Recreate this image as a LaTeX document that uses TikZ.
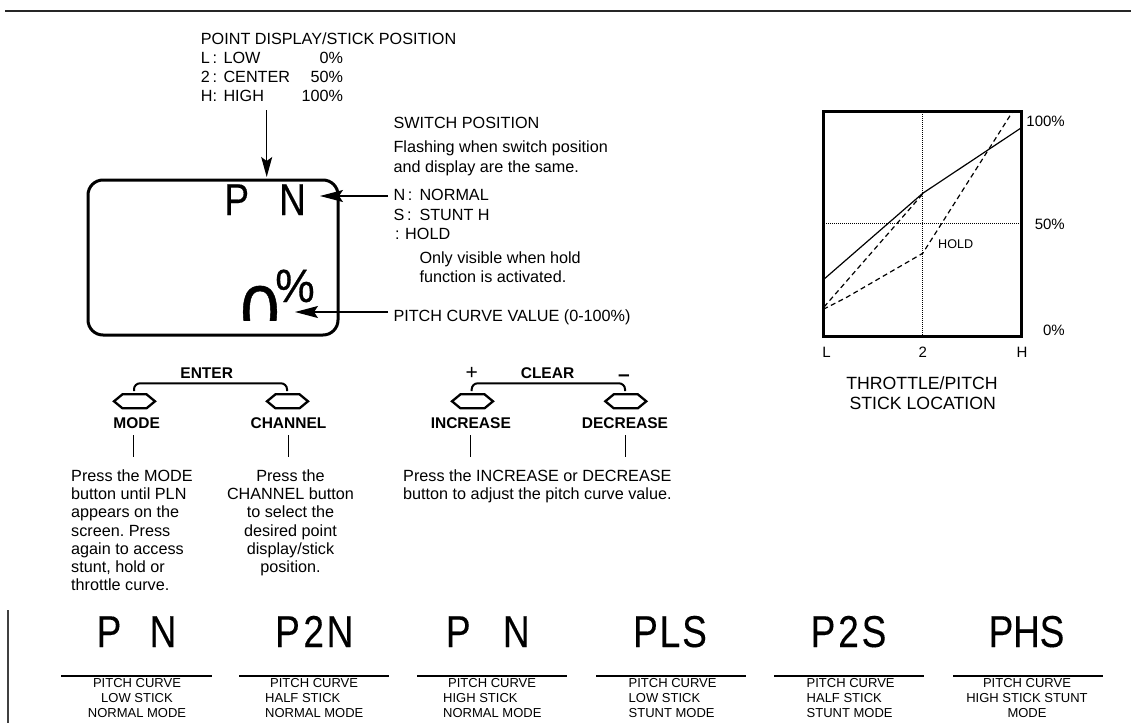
\documentclass[tikz,border=0pt]{standalone}
\usepackage{graphicx}
\usepackage{fontspec}
\setmainfont{Liberation Sans}
\newfontfamily\lcdfont{Liberation Sans}[FakeBold=0.25]
\newfontfamily\zerofont{Liberation Sans}[FakeBold=0.6]
\usetikzlibrary{arrows.meta,calc}
\frenchspacing
\newcommand\myfs[1]{\fontsize{#1}{#1}\selectfont}
\newcommand\lcdrow[4]{\makebox[#1pt]{\scalebox{0.83}[1]{#2}}\makebox[#1pt]{\scalebox{0.83}[1]{#3}}\makebox[#1pt]{\scalebox{0.83}[1]{#4}}}
\newcommand\hexbtn[2]{%
  \draw[btn] (#1-20.5,401.3) -- (#1-12,394.3) -- (#1+12,394.3) -- (#1+20.5,401.3) -- (#1+12,408.3) -- (#1-12,408.3) -- cycle;
  \coordinate (#2) at (#1,401.3);}
\begin{document}
\begin{tikzpicture}[x=1pt,y=-1pt,
  txt/.style={inner sep=0pt,anchor=base west,font=\myfs{16.2}},
  lcd/.style={inner sep=0pt,anchor=base,font=\lcdfont\myfs{44.7}},
  lbl/.style={inner sep=0pt,anchor=base,font=\bfseries\myfs{15.5}},
  para/.style={inner sep=0pt,font=\fontsize{16.2}{18.3}\selectfont},
  bt/.style={inner sep=0pt,font=\fontsize{13}{15}\selectfont},
  glab/.style={inner sep=0pt,anchor=base,font=\myfs{15}},
  btn/.style={line width=2.3pt,line join=miter},
  brk/.style={line width=2pt,rounded corners=6pt},
  ptr/.style={line width=1.2pt,-{Stealth[length=20pt,width=11pt,inset=4pt]}},
  rulel/.style={line width=1.3pt},
  conn/.style={line width=0.9pt},
  grid/.style={line width=0.8pt,dash pattern=on 1pt off 1pt},
  crv/.style={line width=1.2pt},
  dcrv/.style={line width=1.2pt,dash pattern=on 5pt off 3.5pt}
]
\useasboundingbox (0,0) rectangle (1131,723);

% frame rules
\coordinate (tl) at (5,10.7); \coordinate (tr) at (1131,10.7);
\draw[line width=2pt,black!85] (tl) -- (tr);
\coordinate (vl1) at (8.3,610); \coordinate (vl2) at (8.3,723);
\draw[line width=1.8pt,black!75] (vl1) -- (vl2);

% point display block
\node[txt] (pdt) at (200.7,44) {POINT DISPLAY/STICK POSITION};
\node[txt] (pl) at (200.7,63) {L\,:};
\node[txt] (plw) at (223.3,63) {LOW};
\node[txt,anchor=base east] (plv) at (343.3,63) {0\%};
\node[txt] (pc) at (200.7,82) {2\,:};
\node[txt] (pcw) at (223.3,82) {CENTER};
\node[txt,anchor=base east] (pcv) at (343.3,82) {50\%};
\node[txt] (ph) at (200.7,101.5) {H:};
\node[txt] (phw) at (223.3,101.5) {HIGH};
\node[txt,anchor=base east] (phv) at (343.3,101.5) {100\%};

% display
\node[draw,line width=3pt,rounded corners=15pt,minimum width=250,minimum height=155,inner sep=0pt] (disp) at (213,257.5) {};
\node[lcd] (dchars) at (264.6,215) {\lcdrow{27.9}{P}{}{N}};
\begin{scope}
  \clip (200,240) rectangle (335,320);
  \node[inner sep=0pt,anchor=base,font=\zerofont\myfs{74}] (zero) at (260,337.5) {\scalebox{0.95}[1]{0}};
\end{scope}
\node[inner sep=0pt,anchor=base,font=\zerofont\myfs{46.7}] (pct) at (295,302) {\scalebox{0.95}[1]{\%}};

\coordinate (a1s) at (266.7,110); \coordinate (a1e) at (266.7,177);
\draw[ptr] (a1s) -- (a1e);

% switch block
\node[txt] (swt) at (393.3,128.5) {SWITCH POSITION};
\node[txt] (sw1) at (393.3,152.5) {Flashing when switch position};
\node[txt] (sw2) at (393.3,172.5) {and display are the same.};
\node[txt] (swn) at (393.3,200.8) {N\,:};
\node[txt] (swnn) at (419.3,200.8) {NORMAL};
\node[txt] (sws) at (393.3,220.8) {S\,:};
\node[txt] (swss) at (419.3,220.8) {STUNT H};
\node[txt] (swh) at (395,239.8) {:};
\node[txt] (swhh) at (405,239.8) {HOLD};
\node[txt] (swo1) at (419.3,263.5) {Only visible when hold};
\node[txt] (swo2) at (419.3,282.5) {function is activated.};
\node[txt] (pcval) at (393.3,321) {PITCH CURVE VALUE (0-100\%)};

\coordinate (a2s) at (388,196); \coordinate (a2e) at (320,196);
\draw[line width=1.2pt,-{Stealth[length=23pt,width=12pt,inset=4pt]}] (a2s) -- (a2e);
\coordinate (a3s) at (388,312); \coordinate (a3e) at (295,312);
\draw[line width=1.2pt,-{Stealth[length=23pt,width=12pt,inset=4pt]}] (a3s) -- (a3e);

% graph
\node[draw,line width=3pt,minimum width=198,minimum height=225,inner sep=0pt] (gr) at (922,223.5) {};
\draw[grid] (922.7,112) -- (922.7,335);
\draw[grid] (824,223.3) -- (1020,223.3);
\draw[crv] (823,280) -- (922.7,193.3) -- (1021,128);
\draw[dcrv] (824,307) -- (922.7,194);
\draw[dcrv] (823.3,309.3) -- (846.7,297.3) -- (922.7,253.3) -- (1013,111);
\node[inner sep=0pt,anchor=base,font=\myfs{12.6}] (ghold) at (955.7,248.8) {HOLD};
\node[glab,anchor=base east] (g100) at (1065,126.4) {100\%};
\node[glab,anchor=base east] (g50) at (1065,229.4) {50\%};
\node[glab,anchor=base east] (g0) at (1065,335.4) {0\%};
\node[glab] (gL) at (826.5,357.1) {L};
\node[glab] (g2) at (922.7,357.1) {2};
\node[glab] (gH) at (1022,357.1) {H};
\node[inner sep=0pt,anchor=base,font=\myfs{17.7}] (gt1) at (922,389.3) {THROTTLE/PITCH};
\node[inner sep=0pt,anchor=base,font=\myfs{17.7}] (gt2) at (922.7,409.6) {STICK LOCATION};

% buttons
\hexbtn{134.5}{b1}
\hexbtn{287.5}{b2}
\hexbtn{472.5}{b3}
\hexbtn{625.8}{b4}
\draw[brk] (134,391) -- (134,383.3) -- (287,383.3) -- (287,391);
\draw[brk] (471.7,391) -- (471.7,383.3) -- (625,383.3) -- (625,391);
\node[lbl] (enter) at (206.7,378) {ENTER};
\node[lbl] (clear) at (547.5,378) {CLEAR};
\node[inner sep=0pt,anchor=base,font=\myfs{21}] (plus) at (471.7,379) {+};
\node[inner sep=0pt,anchor=base,font=\bfseries\myfs{21}] (minus) at (624,381.5) {\textendash};
\node[lbl] (mode) at (136.7,428.5) {MODE};
\node[lbl] (chan) at (288.5,428.5) {CHANNEL};
\node[lbl] (inc) at (470.8,428.5) {INCREASE};
\node[lbl] (dec) at (625,428.5) {DECREASE};

\node[para,anchor=north west,align=left] (modep) at (71,469.2) {Press the MODE\\button until PLN\\appears on the\\screen. Press\\again to access\\stunt, hold or\\throttle curve.};
\node[para,anchor=north,align=center] (chanp) at (290.5,469.2) {Press the\\CHANNEL button\\to select the\\desired point\\display/stick\\position.};
\node[para,anchor=north west,align=left] (incp) at (403,469.2) {Press the INCREASE or DECREASE\\button to adjust the pitch curve value.};

\draw[conn] ($(mode.south)+(-3.1,6.5)$) -- ($(mode.south)+(-3.1,28.5)$);
\draw[conn] ($(chan.south)+(0.1,6.5)$) -- ($(chan.south)+(0.1,28.5)$);
\draw[conn] ($(inc.south)+(-0.8,6.5)$) -- ($(inc.south)+(-0.8,28.5)$);
\draw[conn] ($(dec.south)+(0.3,6.5)$) -- ($(dec.south)+(0.3,28.5)$);

% bottom groups
\node[lcd] (c1) at (136,647) {\lcdrow{27}{P}{}{N}};
\draw[rulel] (61,676) -- (212,676);
\node[bt,anchor=north,align=center] (t1) at (137,678.4) {PITCH CURVE\\LOW STICK\\NORMAL MODE};

\node[lcd] (c2) at (313.7,647) {\lcdrow{26.2}{P}{2}{N}};
\draw[rulel] (239,676) -- (389,676);
\node[bt,anchor=north west,align=left] (t2) at (265,678.4) {\hspace*{5pt}PITCH CURVE\\HALF STICK\\NORMAL MODE};

\node[lcd] (c3) at (487.3,647) {\lcdrow{29}{P}{}{N}};
\draw[rulel] (417,676) -- (567,676);
\node[bt,anchor=north west,align=left] (t3) at (443,678.4) {\hspace*{5pt}PITCH CURVE\\HIGH STICK\\NORMAL MODE};

\node[lcd] (c4) at (670,647) {\lcdrow{24.5}{P}{L}{S}};
\draw[rulel] (596,676) -- (746,676);
\node[bt,anchor=north west,align=left] (t4) at (628.5,678.4) {PITCH CURVE\\LOW STICK\\STUNT MODE};

\node[lcd] (c5) at (848.5,647) {\lcdrow{25.5}{P}{2}{S}};
\draw[rulel] (774,676) -- (924,676);
\node[bt,anchor=north west,align=left] (t5) at (806.5,678.4) {PITCH CURVE\\HALF STICK\\STUNT MODE};

\node[lcd] (c6) at (1026.5,647) {\lcdrow{25.5}{P}{H}{S}};
\draw[rulel] (953,676) -- (1103,676);
\node[bt,anchor=north,align=center] (t6) at (1027,678.4) {PITCH CURVE\\HIGH STICK STUNT\\MODE};
\end{tikzpicture}
\end{document}
